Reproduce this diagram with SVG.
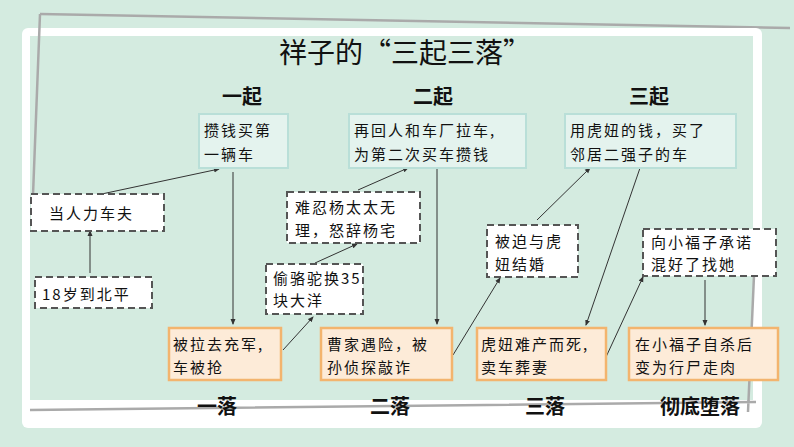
<svg xmlns="http://www.w3.org/2000/svg" width="794" height="447" viewBox="0 0 794 447">
<style>
.h{font:bold 20px "Noto Sans CJK SC",sans-serif;fill:#111;text-anchor:middle}
.t{font:15px "Noto Sans CJK SC",sans-serif;fill:#111;letter-spacing:2px}
.b{fill:#e4f3ee;stroke:#b9dfd8;stroke-width:2}
.d{fill:#fff;stroke:#555;stroke-width:2;stroke-dasharray:7 4}
.o{fill:#fdebd8;stroke:#f3b46e;stroke-width:2.5}
.c line{stroke:#333;stroke-width:1;marker-end:url(#a)}
</style>
<defs><marker id="a" markerWidth="6" markerHeight="6" refX="5" refY="3" orient="auto" markerUnits="userSpaceOnUse"><path d="M0,0.5 L6,3 L0,5.5z" fill="#333"/></marker></defs>
<rect width="794" height="447" fill="#d4ebe0"/>
<path d="M40,14 L790,28" stroke="#aaa" stroke-width="2.5" fill="none"/>
<rect x="22" y="28" width="740" height="400" rx="6" fill="#fff"/>
<rect x="30" y="36" width="723" height="364" fill="#d4ebe0"/>
<path d="M40,14 L33,195 M30,410 L756,402 M756,230 L748,412" stroke="#aaa" stroke-width="2.5" fill="none"/>
<text x="405" y="63" style="font:28px 'Noto Sans CJK SC',sans-serif;fill:#111" text-anchor="middle">祥子的“三起三落”</text>
<g id="headings">
<text class="h" x="242" y="104">一起</text><text class="h" x="433" y="104">二起</text><text class="h" x="649" y="104">三起</text>
<text class="h" x="217" y="414">一落</text><text class="h" x="390" y="414">二落</text><text class="h" x="545" y="414">三落</text><text class="h" x="700" y="414">彻底堕落</text>
</g>
<g class="c" id="connectors">
<line x1="97" y1="195" x2="219" y2="169"/>
<line x1="90" y1="273" x2="90" y2="231"/>
<line x1="233" y1="172" x2="233" y2="324"/>
<line x1="283" y1="350" x2="313" y2="317"/>
<line x1="315" y1="263" x2="357" y2="244"/>
<line x1="358" y1="190" x2="408" y2="168"/>
<line x1="437" y1="168" x2="437" y2="324"/>
<line x1="453" y1="355" x2="500" y2="278"/>
<line x1="537" y1="220" x2="590" y2="168"/>
<line x1="640" y1="168" x2="586" y2="325"/>
<line x1="606" y1="357" x2="643" y2="277"/>
<line x1="705" y1="280" x2="705" y2="325"/>
</g>
<g id="n1"><rect class="b" x="199" y="114" width="89" height="54"/><text class="t" x="204" y="136">攒钱买第</text><text class="t" x="204" y="160">一辆车</text></g>
<g id="n2"><rect class="b" x="349" y="114" width="177" height="54"/><text class="t" x="354" y="136">再回人和车厂拉车,</text><text class="t" x="354" y="160">为第二次买车攒钱</text></g>
<g id="n3"><rect class="b" x="565" y="114" width="171" height="54"/><text class="t" x="570" y="136">用虎妞的钱，买了</text><text class="t" x="570" y="160">邻居二强子的车</text></g>
<g id="n4"><rect class="d" x="31" y="194" width="133" height="37"/><text class="t" x="49" y="219">当人力车夫</text></g>
<g id="n5"><rect class="d" x="35" y="277" width="117" height="31"/><text class="t" x="42" y="300">18岁到北平</text></g>
<g id="n6"><rect class="d" x="287" y="192" width="133" height="51"/><text class="t" x="295" y="213">难忍杨太太无</text><text class="t" x="295" y="236">理，怒辞杨宅</text></g>
<g id="n7"><rect class="d" x="266" y="264" width="97" height="50"/><text class="t" x="273" y="284">偷骆驼换35</text><text class="t" x="273" y="306">块大洋</text></g>
<g id="n8"><rect class="d" x="487" y="225" width="91" height="52"/><text class="t" x="495" y="247">被迫与虎</text><text class="t" x="495" y="270">妞结婚</text></g>
<g id="n9"><rect class="d" x="643" y="229" width="133" height="47"/><text class="t" x="651" y="248">向小福子承诺</text><text class="t" x="651" y="270">混好了找她</text></g>
<g id="n10"><rect class="o" x="169" y="328" width="112" height="52"/><text class="t" x="173" y="350">被拉去充军,</text><text class="t" x="173" y="373">车被抢</text></g>
<g id="n11"><rect class="o" x="321" y="328" width="131" height="52"/><text class="t" x="327" y="350">曹家遇险，被</text><text class="t" x="327" y="373">孙侦探敲诈</text></g>
<g id="n12"><rect class="o" x="477" y="328" width="129" height="52"/><text class="t" x="481" y="350">虎妞难产而死,</text><text class="t" x="481" y="373">卖车葬妻</text></g>
<g id="n13"><rect class="o" x="629" y="328" width="149" height="52"/><text class="t" x="635" y="350">在小福子自杀后</text><text class="t" x="635" y="373">变为行尸走肉</text></g>
</svg>
